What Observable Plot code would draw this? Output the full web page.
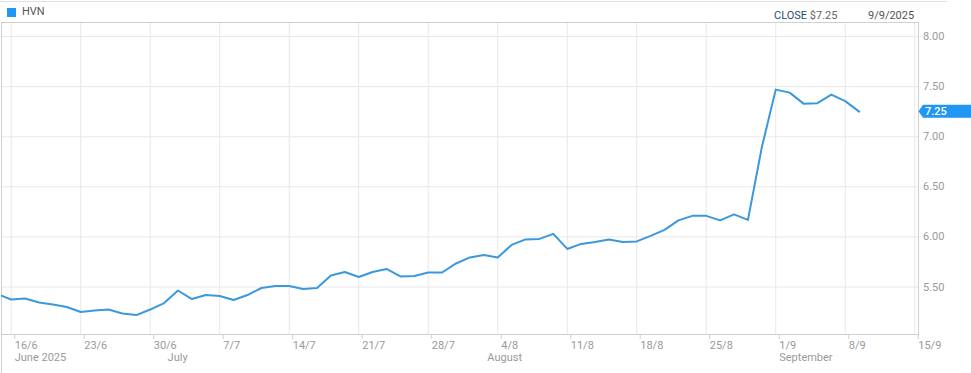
<!DOCTYPE html>
<html>
<head>
<meta charset="utf-8">
<script src="https://cdn.jsdelivr.net/npm/d3@7"></script>
<script src="https://cdn.jsdelivr.net/npm/@observablehq/plot@0.6"></script>
<style>
  html, body { margin: 0; padding: 0; background: #fff; }
  body { width: 971px; height: 373px; overflow: hidden; font-family: Roboto, "Noto Sans", sans-serif; }
  #header { position: relative; width: 971px; height: 21px; }
  #header .t { position: absolute; font-size: 11px; line-height: 11px; white-space: nowrap; }
  #topline { position: absolute; left: 0; top: 1px; width: 947px; height: 1px; background: #e0e0e0; }
  #sw { position: absolute; left: 7px; top: 8px; width: 9px; height: 9px; background: #2196f3; }
  #chart svg { display: block; }
</style>
</head>
<body>
<div id="header">
  <div id="topline"></div>
  <div id="sw"></div>
  <div class="t" id="lg" style="left:22px; top:6px; color:#555;"></div>
  <div class="t" style="left:774px; top:10px;"><span id="closeLab" style="color:#2b4c6f;"></span> <span id="closeVal" style="color:#666;"></span></div>
  <div class="t" id="closeDate" style="left:868px; top:10px; color:#555;"></div>
</div>
<div id="chart"></div>
<script>
// ---- data ----
const symbol = "HVN";
const closeDate = "9/9/2025";
const dates = [
  "2025-06-13",
  "2025-06-16","2025-06-17","2025-06-18","2025-06-19","2025-06-20",
  "2025-06-23","2025-06-24","2025-06-25","2025-06-26","2025-06-27",
  "2025-06-30","2025-07-01","2025-07-02","2025-07-03","2025-07-04",
  "2025-07-07","2025-07-08","2025-07-09","2025-07-10","2025-07-11",
  "2025-07-14","2025-07-15","2025-07-16","2025-07-17","2025-07-18",
  "2025-07-21","2025-07-22","2025-07-23","2025-07-24","2025-07-25",
  "2025-07-28","2025-07-29","2025-07-30","2025-07-31","2025-08-01",
  "2025-08-04","2025-08-05","2025-08-06","2025-08-07","2025-08-08",
  "2025-08-11","2025-08-12","2025-08-13","2025-08-14","2025-08-15",
  "2025-08-18","2025-08-19","2025-08-20","2025-08-21","2025-08-22",
  "2025-08-25","2025-08-26","2025-08-27","2025-08-28","2025-08-29",
  "2025-09-01","2025-09-02","2025-09-03","2025-09-04","2025-09-05",
  "2025-09-08","2025-09-09"
];
const closes = [
  5.43,
  5.375, 5.385, 5.345, 5.325, 5.30,
  5.25, 5.265, 5.275, 5.235, 5.22,
  5.275, 5.34, 5.465, 5.38, 5.42,
  5.41, 5.37, 5.42, 5.49, 5.51,
  5.51, 5.48, 5.49, 5.615, 5.65,
  5.60, 5.65, 5.68, 5.605, 5.61,
  5.645, 5.645, 5.735, 5.795, 5.82,
  5.795, 5.92, 5.975, 5.98, 6.03,
  5.88, 5.93, 5.95, 5.975, 5.95,
  5.955, 6.01, 6.07, 6.165, 6.21,
  6.21, 6.165, 6.225, 6.17, 6.895,
  7.47, 7.44, 7.33, 7.335, 7.42,
  7.355, 7.25
];
// x ticks: trading-day positions of Mondays (index 0 = 16/6)
const xTickPos = [0, 5, 10, 15, 20, 25, 30, 35, 40, 45, 50, 55, 60, 65];
const xTickLabels = ["16/6","23/6","30/6","7/7","14/7","21/7","28/7","4/8","11/8","18/8","25/8","1/9","8/9","15/9"];
const monthPos = [0, 11, 34, 55];
const monthLabels = ["June 2025", "July", "August", "September"];
const yTicks = [5.5, 6.0, 6.5, 7.0, 7.5, 8.0];
const lastClose = 7.25;

// ---- header ----
document.getElementById("lg").textContent = symbol;
document.getElementById("closeLab").textContent = "CLOSE";
document.getElementById("closeVal").textContent = "$" + lastClose.toFixed(2);
document.getElementById("closeDate").textContent = closeDate;

// ---- table ----
const data = dates.map((d, k) => ({i: k - 1, date: d, close: closes[k]}));
const months = monthPos.map((p, k) => ({i: p, label: monthLabels[k]}));

const W = 971, H = 352;
const xDomain = [-0.698, 65.27];
const yDomain = [5.026, 8.14];
const grid = "#e8e8e8", frameC = "#cfcfcf", textC = "#9a9a9a";

const plot = Plot.plot({
  width: W, height: H,
  marginLeft: 1, marginRight: 53, marginTop: 1, marginBottom: 39,
  x: {domain: xDomain, axis: null},
  y: {domain: yDomain, axis: null},
  style: {fontFamily: "Roboto, 'Noto Sans', sans-serif", fontSize: "11px", background: "#fff", overflow: "visible"},
  marks: [
    Plot.gridX(xTickPos, {stroke: grid, strokeOpacity: 1}),
    Plot.gridY(yTicks, {stroke: grid, strokeOpacity: 1}),
    Plot.frame({stroke: frameC}),
    Plot.ruleX([xDomain[0]], {y1: yDomain[1], y2: 4.5, stroke: frameC}),
    Plot.lineY(data, {x: "i", y: "close", stroke: "#3c98dc", strokeWidth: 2, clip: true}),
    Plot.axisX(xTickPos, {
      anchor: "bottom", tickSize: 5, tickPadding: 1.5, label: null,
      tickFormat: d => xTickLabels[xTickPos.indexOf(d)],
      textAnchor: "start", dx: 3.5, stroke: frameC, fill: textC, fontSize: 11
    }),
    Plot.text(months, {
      x: "i", text: "label", frameAnchor: "bottom", textAnchor: "start",
      lineAnchor: "top", dx: 3.5, dy: 18.7, fill: textC, fontSize: 11
    }),
    Plot.axisY(yTicks, {
      anchor: "right", tickSize: 0, tickPadding: 4.5, label: null,
      tickFormat: d => d.toFixed(2), fill: textC, fontSize: 11
    })
  ]
});
document.getElementById("chart").appendChild(plot);

// close tag on the right axis, positioned with the plot's own scales
const ys = plot.scale("y").apply(lastClose);
const xr = plot.scale("x").range[1];
const svg = d3.select(plot);
const g = svg.append("g").attr("text-anchor", "start");
const h = 13, tipX = xr + 0.5, bodyX = xr + 5;
g.append("path")
  .attr("d", `M${tipX},${ys} L${bodyX},${ys - h/2} L${W},${ys - h/2} L${W},${ys + h/2} L${bodyX},${ys + h/2} Z`)
  .attr("fill", "#2196f3");
g.append("text")
  .attr("x", bodyX + 2).attr("y", ys).attr("dy", "0.35em")
  .attr("text-anchor", "start")
  .attr("fill", "#fff").attr("font-size", 11).attr("font-weight", 500)
  .text(lastClose.toFixed(2));
</script>
</body>
</html>
